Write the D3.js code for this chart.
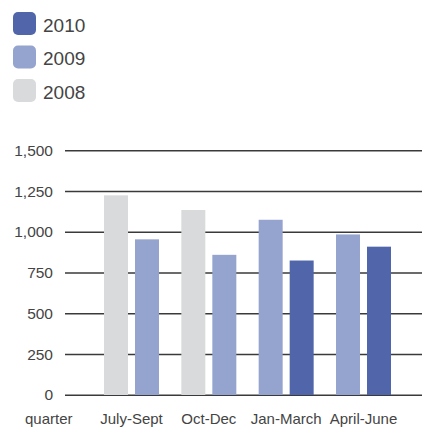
<!DOCTYPE html>
<html>
<head>
<meta charset="utf-8">
<script src="https://cdn.jsdelivr.net/npm/d3@7"></script>
<style>
  body { margin: 0; background: #fff; }
  svg text { font-family: "Liberation Sans", Arial, Helvetica, sans-serif; fill: #444; }
</style>
</head>
<body>
<div id="chart"></div>
<script>
// quarters on the x axis
var categories = ["July-Sept", "Oct-Dec", "Jan-March", "April-June"];
// values per year (null = no bar in that quarter)
var years = ["2010", "2009", "2008"];
var v2008 = [1225, 1135, null, null];
var v2009 = [955, 860, 1075, 985];
var v2010 = [null, null, 825, 910];
var yTicks = [0, 250, 500, 750, 1000, 1250, 1500];

var colors = { "2010": "#5166aa", "2009": "#95a4ce", "2008": "#d9dadc" };
var series = { "2008": v2008, "2009": v2009, "2010": v2010 };

var width = 422, height = 428;
var svg = d3.select("#chart").append("svg")
    .attr("width", width)
    .attr("height", height);

// legend
var legend = svg.selectAll(".legend")
    .data(years)
    .enter().append("g")
    .attr("transform", function(d, i) { return "translate(13," + (12 + i * 33.5) + ")"; });
legend.append("rect")
    .attr("width", 23).attr("height", 23)
    .attr("rx", 5).attr("ry", 5)
    .style("fill", function(d) { return colors[d]; });
legend.append("text")
    .attr("x", 30).attr("y", 19.5)
    .style("font-size", "19px")
    .text(function(d) { return d; });

var y = d3.scaleLinear().domain([0, 1500]).range([395, 150.5]);
var x = d3.scaleBand().domain(categories).range([104, 391]).paddingInner(0.289).paddingOuter(0);
var slot = d3.scaleBand().domain([0, 1]).range([0, x.bandwidth()]).paddingInner(0.226);

// grid lines
svg.selectAll(".grid")
    .data(yTicks)
    .enter().append("line")
    .attr("x1", 65).attr("x2", width)
    .attr("y1", function(d) { return y(d) + 0.25; })
    .attr("y2", function(d) { return y(d) + 0.25; })
    .style("stroke", "#3a3a3a")
    .style("stroke-width", 1.5);

// y labels
svg.selectAll(".ylab")
    .data(yTicks)
    .enter().append("text")
    .attr("x", 53)
    .attr("y", function(d) { return y(d); })
    .attr("dy", "0.35em")
    .attr("text-anchor", "end")
    .style("font-size", "15.5px")
    .text(function(d) { return d3.format(",")(d); });

// bars, oldest year first in each quarter
var bars = [];
categories.forEach(function(c, i) {
  var k = 0;
  ["2008", "2009", "2010"].forEach(function(yr) {
    var v = series[yr][i];
    if (v != null) {
      bars.push({ cat: c, year: yr, value: v, slot: k });
      k++;
    }
  });
});

svg.selectAll(".bar")
    .data(bars)
    .enter().append("rect")
    .attr("x", function(d) { return x(d.cat) + slot(d.slot); })
    .attr("width", slot.bandwidth())
    .attr("y", function(d) { return y(d.value); })
    .attr("height", function(d) { return y(0) - y(d.value); })
    .style("fill", function(d) { return colors[d.year]; });

// x labels
svg.selectAll(".xlab")
    .data(categories)
    .enter().append("text")
    .attr("x", function(d) { return x(d) + x.bandwidth() / 2; })
    .attr("y", 424)
    .attr("text-anchor", "middle")
    .style("font-size", "15px")
    .text(function(d) { return d; });

svg.append("text")
    .attr("x", 25).attr("y", 424)
    .style("font-size", "15px")
    .text("quarter");
</script>
</body>
</html>
